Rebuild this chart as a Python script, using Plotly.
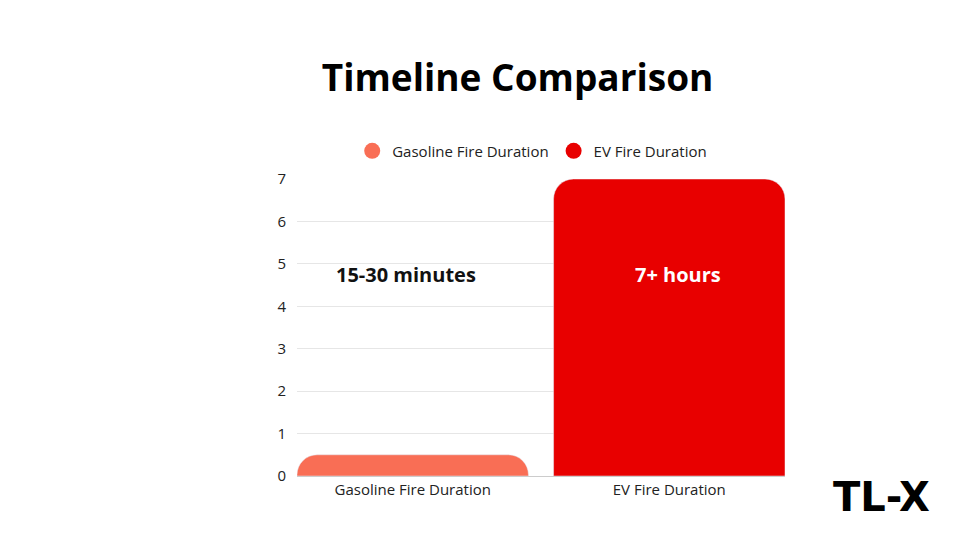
import plotly.graph_objects as go

categories = ['Gasoline Fire Duration', 'EV Fire Duration']
durations = [0.5, 7]
bar_colors = ['#F96E55', '#E80000']
label_texts = ['15-30 minutes', '7+ hours']
label_colors = ['#111111', '#FFFFFF']
label_shift = [-7, 9]
label_y = 4.74

fig = go.Figure()

# bars, one trace per category so the legend gets one entry each
for cat, val, col in zip(categories, durations, bar_colors):
    fig.add_trace(go.Bar(x=[cat], y=[val], marker=dict(color=col, cornerradius=20),
                         showlegend=False, hoverinfo='x+y'))

# circle swatches for the legend
for cat, col in zip(categories, bar_colors):
    fig.add_trace(go.Scatter(x=[None], y=[None], mode='markers', name=cat,
                             marker=dict(color=col, size=16, symbol='circle')))

for cat, txt, col, dx in zip(categories, label_texts, label_colors, label_shift):
    fig.add_annotation(x=cat, y=label_y, text=f'<b>{txt}</b>', showarrow=False, xshift=dx,
                       font=dict(family='Open Sans', size=20, color=col))

# logo
fig.add_annotation(xref='paper', yref='paper', x=1.197, y=-0.07, xanchor='center', yanchor='middle',
                   text='<b>TL-X</b>', showarrow=False,
                   font=dict(family='DejaVu Sans', size=40, color='#000000'))

fig.update_layout(
    width=980, height=551,
    paper_bgcolor='white', plot_bgcolor='white',
    margin=dict(l=289, r=203, t=171, b=83),
    font=dict(family='Open Sans', color='#222222'),
    title=dict(text='<b>Timeline Comparison</b>', x=0.52, xanchor='center', y=0.873, yanchor='middle',
               font=dict(family='Open Sans', size=37, color='#000000')),
    barmode='overlay',
    legend=dict(orientation='h', x=0.482, xanchor='center', y=1.094, yanchor='middle',
                font=dict(size=15, color='#222222'), itemsizing='trace'),
    showlegend=True,
)
fig.update_xaxes(range=[-0.451, 1.451], showgrid=False, showline=True, linecolor='#cccccc',
                 linewidth=1, tickfont=dict(size=15, color='#222222'))
fig.update_traces(width=0.902, selector=dict(type='bar'))
fig.update_yaxes(range=[0, 7], dtick=1, showgrid=True, gridcolor='#e6e6e6', zeroline=False,
                 ticks='', ticklabelstandoff=10, tickfont=dict(size=15, color='#222222'))

fig.write_html('out.html')
